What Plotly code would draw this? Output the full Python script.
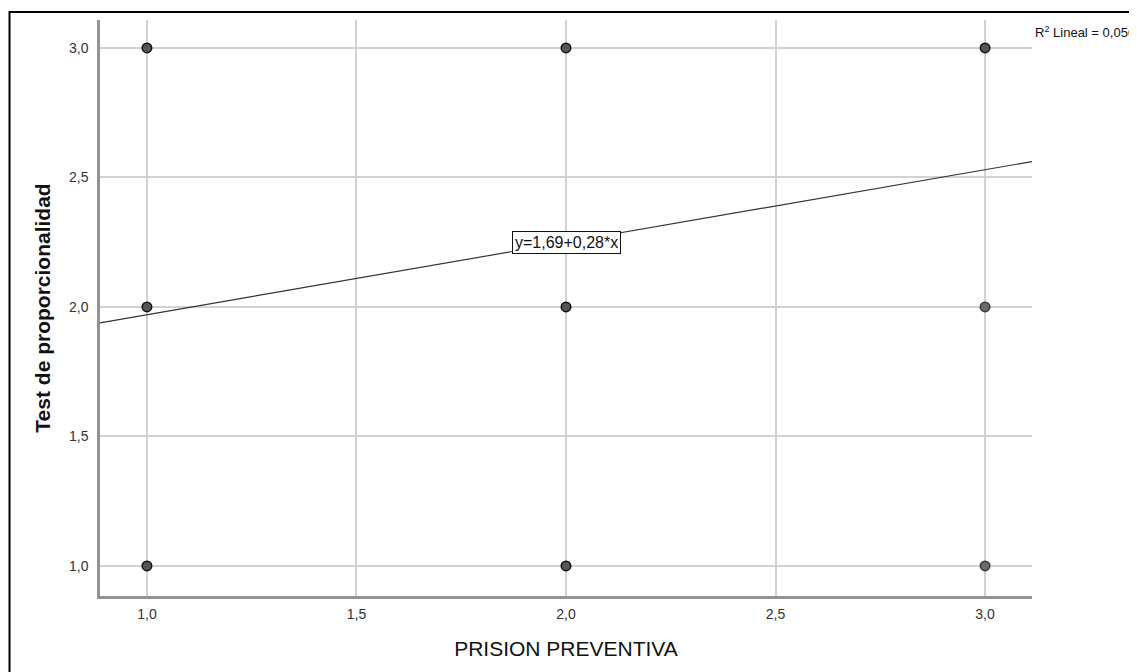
import plotly.graph_objects as go

# Data
x_vals = [1, 1, 1, 2, 2, 2, 3, 3, 3]
y_vals = [3, 2, 1, 3, 2, 1, 3, 2, 1]
counts = [3, 3, 3, 3, 3, 3, 3, 1, 1]   # overplotted points look darker
intercept = 1.69
slope = 0.28
r2 = 0.050
x_ticks = [1.0, 1.5, 2.0, 2.5, 3.0]
y_ticks = [1.0, 1.5, 2.0, 2.5, 3.0]

x_range = [0.888, 3.112]
y_range = [0.884, 3.108]

FONT = "Arial, Liberation Sans, sans-serif"

def fmt(v, d=2):
    return f"{v:.{d}f}".replace(".", ",")

fig = go.Figure()

# regression line across the full x range
lx = x_range
ly = [intercept + slope * v for v in lx]
fig.add_trace(go.Scatter(x=lx, y=ly, mode="lines",
                         line=dict(color="#333333", width=1.2),
                         hoverinfo="skip", showlegend=False))

outline = ["#111111" if c > 1 else "#3a3a3a" for c in counts]
fill = ["#555555" if c > 1 else "#6a6a6a" for c in counts]
fig.add_trace(go.Scatter(x=x_vals, y=y_vals, mode="markers",
                         marker=dict(size=9.5, color=fill,
                                     line=dict(color=outline, width=1.5)),
                         showlegend=False))

axis_common = dict(showgrid=True, gridcolor="#d2d2d2", gridwidth=2,
                   showline=True, linecolor="#939393", linewidth=2.5,
                   zeroline=False, ticks="", tickformat=".1f",
                   tickfont=dict(family=FONT, size=14, color="#333333"))

fig.update_xaxes(range=x_range, tickvals=x_ticks, mirror=False,
                 title=dict(text="PRISION PREVENTIVA",
                            font=dict(family=FONT, size=21, color="#111111"),
                            standoff=21),
                 ticklabelstandoff=3, **axis_common)
fig.update_yaxes(range=y_range, tickvals=y_ticks,
                 title=dict(text="<b>Test de proporcionalidad</b>",
                            font=dict(family=FONT, size=21, color="#111111"),
                            standoff=13),
                 ticklabelstandoff=6, **axis_common)

# equation label
fig.add_annotation(x=2.0, y=2.25, xref="x", yref="y",
                   text=f"y={fmt(intercept)}+{fmt(slope)}*x", showarrow=False,
                   font=dict(family=FONT, size=16, color="#111111"),
                   bgcolor="white", bordercolor="#111111", borderwidth=1, borderpad=2)

# R^2 label
fig.add_annotation(x=1.001, y=0.979, xref="paper", yref="paper",
                   xanchor="left", yanchor="middle",
                   text=f"R<sup>2</sup> Lineal = {fmt(r2, 3)}", showarrow=False,
                   font=dict(family=FONT, size=13, color="#111111"))

# outer frame (top & left visible, right/bottom outside the window)
fig.add_shape(type="rect", xref="paper", yref="paper",
              x0=-0.0971, x1=1.3, y0=-0.3, y1=1.0139,
              line=dict(color="black", width=2), layer="below")

# page body has an 8px margin: size the figure so the plot lands where it should
fig.update_layout(width=1129, height=664,
                  margin=dict(l=92, r=105, t=12, b=76),
                  paper_bgcolor="white", plot_bgcolor="white",
                  separators=",.", showlegend=False)

fig.write_html("out.html")
